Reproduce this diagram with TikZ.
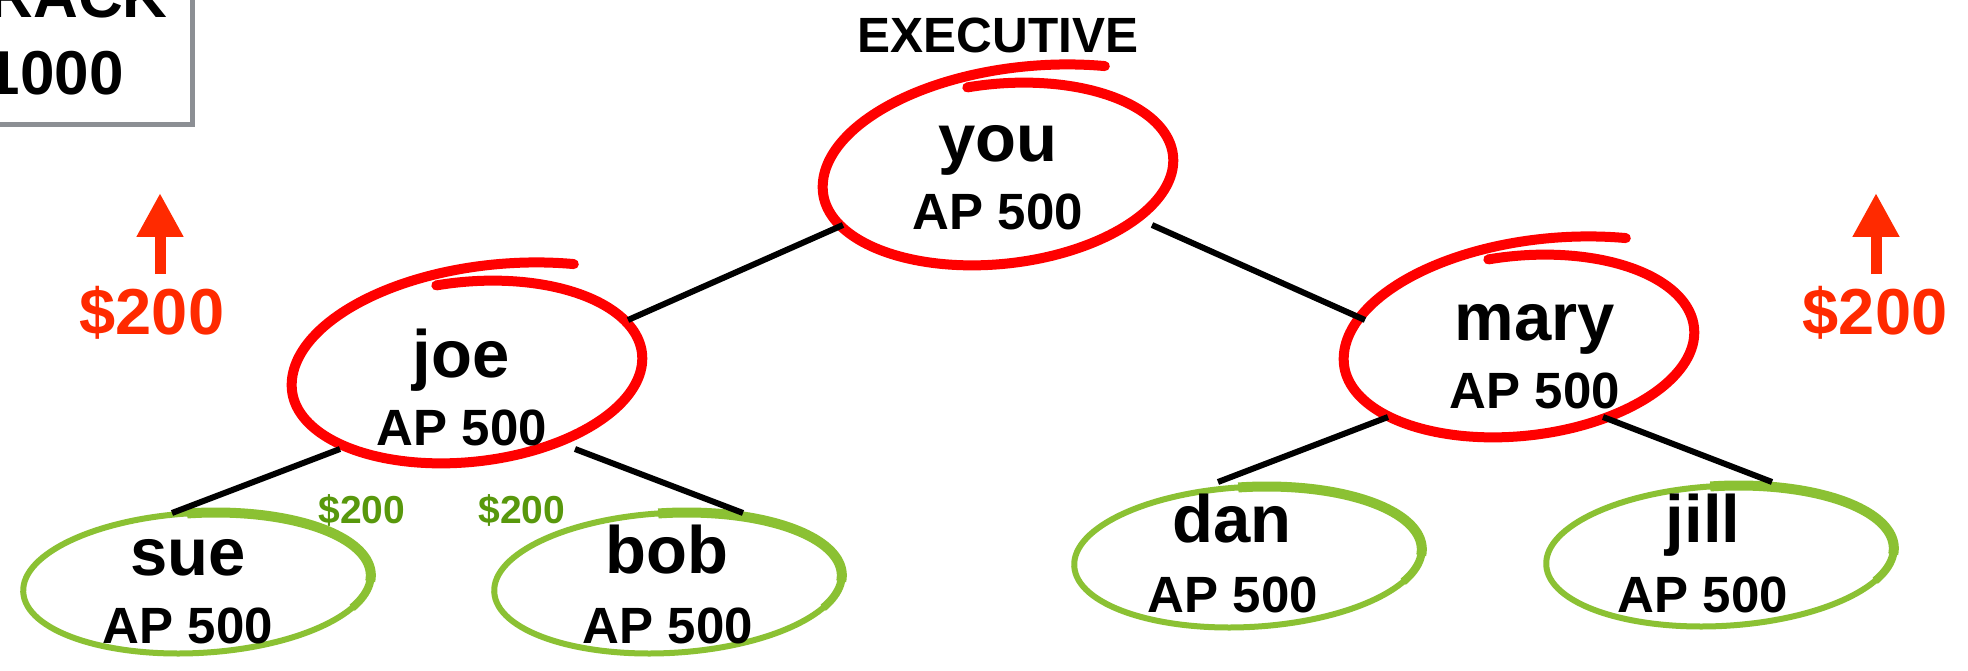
\documentclass[tikz,border=0pt]{standalone}
\usepackage{fontspec}
\setmainfont{Liberation Sans}
\usetikzlibrary{arrows.meta}
\definecolor{loopred}{RGB}{255,0,0}
\definecolor{leafgreen}{RGB}{139,193,51}
\definecolor{moneygreen}{RGB}{88,152,12}
\definecolor{moneyred}{RGB}{255,42,0}
\definecolor{boxgray}{RGB}{140,143,148}
\tikzset{
  namelbl/.style={anchor=base, inner sep=0pt, font=\bfseries\fontsize{67}{67}\selectfont},
  aplbl/.style={anchor=base, inner sep=0pt, font=\bfseries\fontsize{51}{51}\selectfont},
  titlelbl/.style={anchor=base, inner sep=0pt, font=\bfseries\fontsize{49.5}{49.5}\selectfont},
  boxlbl/.style={anchor=base east, inner sep=0pt, font=\bfseries\fontsize{62}{62}\selectfont},
  edge/.style={line width=6pt, draw=black},
  redloop/.style={draw=loopred, line width=10pt, line cap=round, line join=round},
  greenring/.style={draw=leafgreen, line width=6pt},
  greenthick/.style={draw=leafgreen, line width=10pt},
  greenmid/.style={draw=leafgreen, line width=8pt},
  greenmoney/.style={anchor=base, inner sep=0pt, text=moneygreen, font=\bfseries\fontsize{39}{39}\selectfont},
  redmoney/.style={anchor=base, inner sep=0pt, text=moneyred, font=\bfseries\fontsize{65}{65}\selectfont},
  raisearrow/.style={draw=moneyred, line width=11pt, -{Triangle[width=44pt,length=44pt]}},
}
\newcommand{\drawredloop}[1]{%
  \begin{scope}[shift={#1}, rotate=6]
    \draw[redloop] plot[domain=-97:302, samples=200, variable=\t, smooth]
      ({176*(1+0.26*(max(0,(\t-180)/122))^2)*cos(\t)}, {90*(1+0.26*(max(0,(\t-180)/122))^2)*sin(\t)});
  \end{scope}}
\newcommand{\drawgreenring}[1]{%
  \begin{scope}[shift={#1}, rotate=3]
    \draw[greenring] (0,0) ellipse [x radius=174, y radius=70];
    \draw[greenmid] plot[domain=-92:28, samples=50, variable=\t, smooth]
      ({174*cos(\t)}, {70*sin(\t)});
    \draw[greenthick] plot[domain=-92:6, samples=50, variable=\t, smooth]
      ({174*cos(\t)}, {70*sin(\t)});
  \end{scope}}
\begin{document}
\begin{tikzpicture}[x=1pt,y=-1pt]
\useasboundingbox (0,0) rectangle (1968,671);
\clip (0,0) rectangle (1968,671);
\fill[white] (0,0) rectangle (1968,671);

% top-left box
\draw[boxgray, line width=4.5pt] (-30,-30) rectangle (192.5,124.5);
\node[boxlbl] (track) at (168,18) {RACK};
\node[boxlbl] (amount) at (124,95) {1000};

% title
\node[titlelbl] (exec) at (998,53) {EXECUTIVE};

% loops
\drawredloop{(998,174)}
\drawredloop{(467,372)}
\drawredloop{(1519,346)}
\drawgreenring{(197,583)}
\drawgreenring{(668,583)}
\drawgreenring{(1248,557)}
\drawgreenring{(1720,556)}

% person labels
\node[namelbl] (you) at (998,162) {you};
\node[aplbl] (you-ap) at (998,230) {AP 500};
\node[namelbl] (joe) at (461,377) {joe};
\node[aplbl] (joe-ap) at (462,445) {AP 500};
\node[namelbl] (mary) at (1535,340) {mary};
\node[aplbl] (mary-ap) at (1535,408) {AP 500};
\node[namelbl] (sue) at (188,575) {sue};
\node[aplbl] (sue-ap) at (188,643) {AP 500};
\node[namelbl] (bob) at (667,573) {bob};
\node[aplbl] (bob-ap) at (668,643) {AP 500};
\node[namelbl] (dan) at (1232,542) {dan};
\node[aplbl] (dan-ap) at (1233,612) {AP 500};
\node[namelbl] (jill) at (1703,542) {jill};
\node[aplbl] (jill-ap) at (1703,612) {AP 500};

% connector ends
\coordinate (you-w) at (843,225);
\coordinate (you-e) at (1152,225);
\coordinate (joe-ne) at (628,320);
\coordinate (mary-nw) at (1365,320);
\coordinate (joe-sw) at (340,449);
\coordinate (joe-se) at (575,449);
\coordinate (sue-top) at (172,513);
\coordinate (bob-top) at (743,513);
\coordinate (mary-sw) at (1388,417);
\coordinate (mary-se) at (1603,417);
\coordinate (dan-top) at (1218,482);
\coordinate (jill-top) at (1772,482);

\draw[edge] (you-w) -- (joe-ne);
\draw[edge] (you-e) -- (mary-nw);
\draw[edge] (joe-sw) -- (sue-top);
\draw[edge] (joe-se) -- (bob-top);
\draw[edge] (mary-sw) -- (dan-top);
\draw[edge] (mary-se) -- (jill-top);

% money labels
\node[greenmoney] (pay-sue) at (362,523) {\$200};
\node[greenmoney] (pay-bob) at (522,523) {\$200};
\node[redmoney] (gain-left) at (152,334) {\$200};
\node[redmoney] (gain-right) at (1875,334) {\$200};

% raise arrows
\coordinate (la-s) at (160,274);
\coordinate (la-t) at (160,193);
\coordinate (ra-s) at (1876,274);
\coordinate (ra-t) at (1876,193);
\draw[raisearrow] (la-s) -- (la-t);
\draw[raisearrow] (ra-s) -- (ra-t);
\end{tikzpicture}
\end{document}
